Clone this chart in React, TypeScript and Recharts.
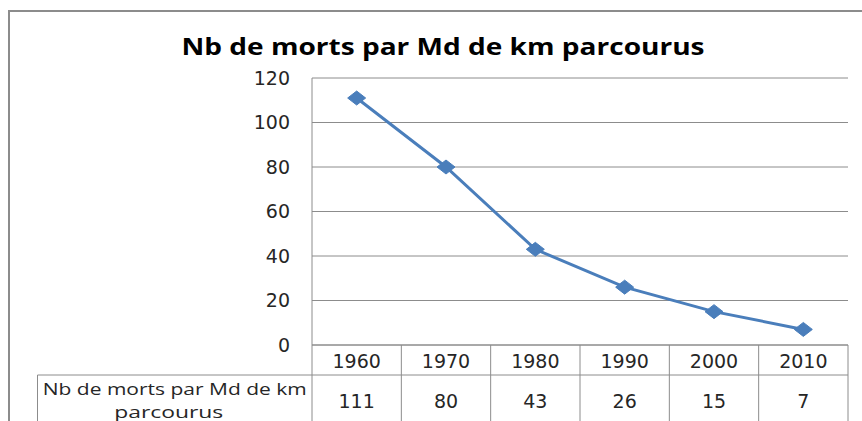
import { CartesianGrid, Line, LineChart, XAxis, YAxis } from "recharts";

const years = ["1960", "1970", "1980", "1990", "2000", "2010"];
const deaths = [111, 80, 43, 26, 15, 7];
const yTicks = [0, 20, 40, 60, 80, 100, 120];
const title = "Nb de morts par Md de km parcourus";
const rowLabel = ["Nb de morts par Md de km", "parcourus"];

const data = years.map((year, i) => ({ year, deaths: deaths[i] }));

const W = 862;
const H = 421;
const PLOT_LEFT = 312;
const PLOT_RIGHT = 848;
const BAND = (PLOT_RIGHT - PLOT_LEFT) / years.length;
const GRID = "#8c8c8c";
const BLUE = "#4a7ebb";
const INK = "#262626";
const HEAD_H = 30;
const ROW_H = 60;
const LABEL_LEFT = 37.5;

// diamond marker, a bit wider than tall like the original
const Diamond = (props: any) => {
    const { cx, cy, index } = props;
    if (cx == null || cy == null) return <g key={index} />;
    const pts = `${cx - 9},${cy} ${cx},${cy - 7} ${cx + 9},${cy} ${cx},${cy + 7}`;
    return <polygon key={index} points={pts} fill={BLUE} stroke={BLUE} />;
};

// the data table under the plot is drawn cell by cell from the x axis ticks
const TableTick = (props: any) => {
    const { x, y, index, payload } = props;
    const half = BAND / 2;
    const left = x - half;
    const right = x + half;
    const mid = y + HEAD_H;
    const bottom = mid + ROW_H;
    return (
        <g>
            <line x1={right} y1={y} x2={right} y2={bottom} stroke={GRID} />
            {index === 0 && (
                <line x1={left} y1={y} x2={left} y2={bottom} stroke={GRID} />
            )}
            <line x1={left} y1={mid} x2={right} y2={mid} stroke={GRID} />
            <text
                x={x}
                y={y + HEAD_H / 2 + 1}
                textAnchor="middle"
                dominantBaseline="central"
                fontFamily="DejaVu Sans"
                fontSize={19}
                fill={INK}
            >
                {payload.value}
            </text>
            <text
                x={x}
                y={mid + 26}
                textAnchor="middle"
                dominantBaseline="central"
                fontFamily="DejaVu Sans"
                fontSize={19}
                fill={INK}
            >
                {deaths[index]}
            </text>
            {index === 0 && (
                <g>
                    <line x1={LABEL_LEFT} y1={mid} x2={left} y2={mid} stroke={GRID} />
                    <line x1={LABEL_LEFT} y1={mid} x2={LABEL_LEFT} y2={bottom} stroke={GRID} />
                    <text
                        x={(LABEL_LEFT + left) / 2}
                        y={mid + 13}
                        textAnchor="middle"
                        dominantBaseline="central"
                        fontFamily="Open Sans"
                        fontSize={17}
                        fill={INK}
                        textLength={264}
                        lengthAdjust="spacingAndGlyphs"
                    >
                        {rowLabel[0]}
                    </text>
                    <text
                        x={(LABEL_LEFT + left) / 2 - 6}
                        y={mid + 36}
                        textAnchor="middle"
                        dominantBaseline="central"
                        fontFamily="Open Sans"
                        fontSize={17}
                        fill={INK}
                        textLength={109}
                        lengthAdjust="spacingAndGlyphs"
                    >
                        {rowLabel[1]}
                    </text>
                </g>
            )}
        </g>
    );
};

const App = () => {
    return (
        <div
            style={{
                position: "absolute",
                left: 0,
                top: 0,
                width: W,
                height: H,
                overflow: "hidden",
                background: "#fff",
            }}
        >
            <div
                style={{
                    position: "absolute",
                    left: 8,
                    top: 10,
                    width: W + 20,
                    height: H + 20,
                    border: `2px solid ${GRID}`,
                }}
            />
            <svg
                width={W}
                height={70}
                style={{ position: "absolute", left: 0, top: 0 }}
            >
                <text
                    x={443}
                    y={45}
                    textAnchor="middle"
                    dominantBaseline="central"
                    fontFamily="Open Sans"
                    fontWeight="bold"
                    fontSize={24}
                    fill="#000"
                    textLength={523}
                    lengthAdjust="spacingAndGlyphs"
                >
                    {title}
                </text>
            </svg>
            <div style={{ position: "absolute", left: 0, top: 0 }}>
                <LineChart
                    width={W}
                    height={H}
                    data={data}
                    margin={{ top: 78, right: W - PLOT_RIGHT, left: PLOT_LEFT - 60, bottom: 0 }}
                >
                    <CartesianGrid vertical={false} stroke={GRID} />
                    <XAxis
                        dataKey="year"
                        height={H - 345}
                        padding={{ left: BAND / 2, right: BAND / 2 }}
                        tickLine={false}
                        tickSize={0}
                        tickMargin={0}
                        interval={0}
                        axisLine={{ stroke: GRID }}
                        tick={<TableTick />}
                    />
                    <YAxis
                        width={60}
                        domain={[0, 120]}
                        ticks={yTicks}
                        interval={0}
                        tickLine={false}
                        tickSize={0}
                        tickMargin={22}
                        axisLine={{ stroke: GRID }}
                        tick={{ fontFamily: "DejaVu Sans", fontSize: 19, fill: INK }}
                    />
                    <Line
                        type="linear"
                        dataKey="deaths"
                        stroke={BLUE}
                        strokeWidth={3}
                        dot={Diamond}
                        activeDot={false}
                        isAnimationActive={false}
                    />
                </LineChart>
            </div>
        </div>
    );
};

export default App;
